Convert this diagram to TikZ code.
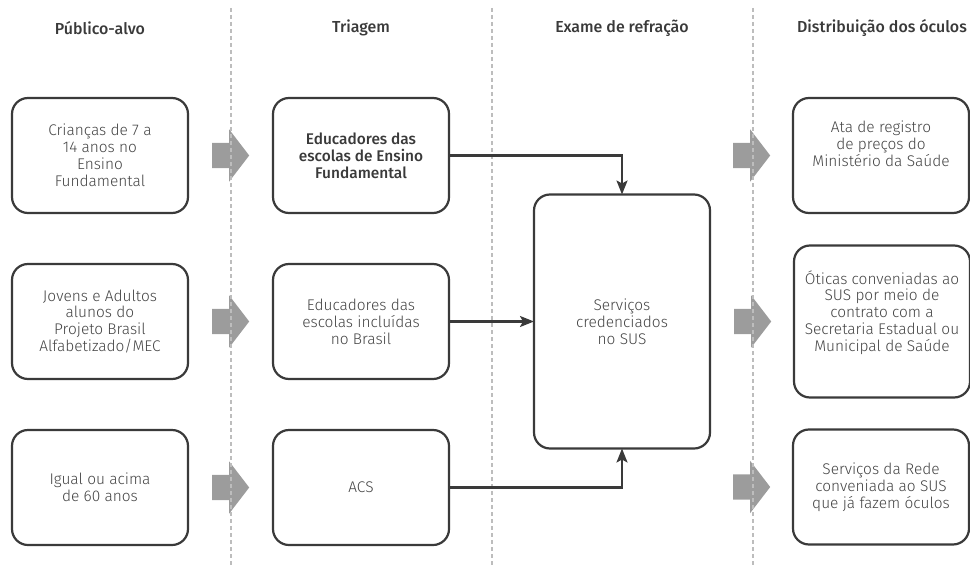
\documentclass[tikz,border=0pt]{standalone}
\usepackage{fontspec}
\IfFontExistsTF{Fira Sans Light}
  {\setmainfont{Fira Sans Light}[BoldFont={Fira Sans Medium}]}
  {\setmainfont{Fira Sans}}
\usepackage{xcolor}
\usepackage{tikz}
\usetikzlibrary{arrows.meta,positioning,calc,shapes.arrows}
\definecolor{ink}{HTML}{3A3A3A}
\definecolor{txt}{HTML}{444444}
\definecolor{flowgray}{HTML}{9C9C9C}
\definecolor{sepgray}{HTML}{BDBDBD}

\begin{document}
\begin{tikzpicture}[x=1bp, y=-1bp, >={Stealth[length=14bp,width=11bp,inset=3bp]}, font=\fontsize{15.5}{17}\selectfont, text=txt]
\tikzstyle{box}=[draw=ink, line width=2.2bp, rounded corners=16bp, minimum width=176bp, minimum height=115bp, align=center, inner sep=2bp, outer sep=0pt, fill=white]
\tikzstyle{hdr}=[font=\fontsize{16}{18}\selectfont\bfseries, text=ink]
\tikzstyle{flow}=[fill=flowgray, single arrow, single arrow tip angle=105, single arrow head extend=13.5bp, minimum width=52bp, minimum height=37bp, inner xsep=0pt, inner ysep=12.5bp, anchor=tail]
\tikzstyle{link}=[draw=ink, line width=2.2bp, ->]
\tikzstyle{sep}=[draw=sepgray, line width=1.5bp, dash pattern=on 4bp off 3bp]
\useasboundingbox (0,0) rectangle (970,567);

% column headers
\node[hdr] (hp) at (100,28) {Público-alvo}; \node[hdr] (ht) at (361,28) {Triagem};
\node[hdr] (he) at (622,28) {Exame de refração}; \node[hdr] (hd) at (882,28) {Distribuição dos óculos};

% target groups
\node[box] (p1) at (100,155.5) {Crianças de 7 a\\14 anos no\\Ensino\\Fundamental};
\node[box, below=51bp of p1] (p2) {Jovens e Adultos\\alunos do\\Projeto Brasil\\Alfabetizado/MEC};
\node[box, below=51bp of p2] (p3) {Igual ou acima\\de 60 anos};

% screening
\node[box, right=85bp of p1, font=\fontsize{15.5}{17}\selectfont\bfseries, text=ink] (t1) {Educadores das\\escolas de Ensino\\Fundamental};
\node[box, right=85bp of p2] (t2) {Educadores das\\escolas incluídas\\no Brasil};
\node[box, right=85bp of p3] (t3) {ACS};

% refraction exam
\node[box, minimum height=254bp, right=85bp of t2] (sus) {Serviços\\credenciados\\no SUS};

% distribution
\node[box] (d1) at (881,155.5) {Ata de registro\\de preços do\\Ministério da Saúde\\[6bp]};
\node[box, minimum height=152bp, right=84bp of sus] (d2) {Óticas conveniadas ao\\SUS por meio de\\contrato com a\\Secretaria Estadual ou\\Municipal de Saúde\\[4bp]};
\node[box] (d3) at (881,487) {Serviços da Rede\\conveniada ao SUS\\que já fazem óculos};

% grey flow arrows
\foreach \i in {1,2,3} {
  \node[flow] (g\i) at ($(p\i.east)+(24,0)$) {};
  \node[flow] (h\i) at ($(d\i.west)+(-60,0)$) {};
}

% separators
\foreach \x in {231,492,753} \draw[sep] (\x,8) -- (\x,565);

% connectors
\draw[link] (t1.east) -| (sus.north);
\draw[link] (t2.east) -- (t2.east -| sus.west);
\draw[link] (t3.east) -| (sus.south);
\end{tikzpicture}
\end{document}
